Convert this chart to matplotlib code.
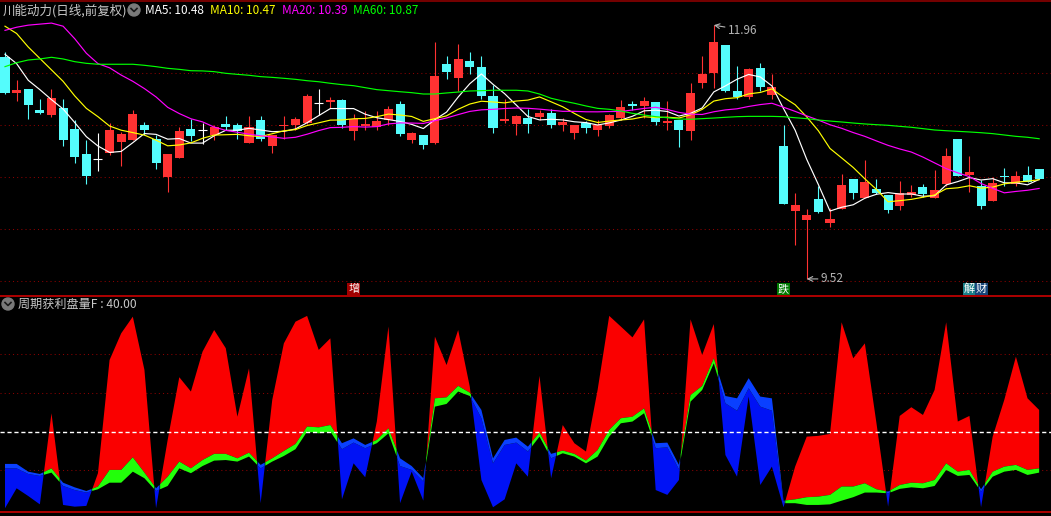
import numpy as np
import pandas as pd
import matplotlib
matplotlib.use("Agg")
import matplotlib.pyplot as plt
from matplotlib.patches import Circle

plt.rcParams['font.family'] = ['Noto Sans CJK SC', 'DejaVu Sans']

# ---- data ----
stock_title = "川能动力(日线,前复权)"
indicator_name = "周期获利盘量F"
indicator_level = 40.0

opens = [11.65, 11.305, 11.35, 11.14, 11.10, 11.16, 10.96, 10.72, 10.67, 10.73,
         10.84, 10.86, 11.00, 10.87, 10.50, 10.68, 10.96, 10.95, 10.90, 11.01,
         11.00, 10.83, 11.05, 10.80, 10.99, 11.00, 11.02, 11.21, 11.225, 11.24,
         10.94, 10.99, 10.98, 11.05, 11.20, 10.86, 10.90, 10.83, 11.59, 11.455,
         11.615, 11.56, 11.28, 11.04, 11.01, 11.07, 11.08, 11.115, 11.00, 10.92,
         11.02, 10.95, 10.99, 11.07, 11.20, 11.18, 11.22, 11.02, 11.05, 10.945,
         11.40, 11.50, 11.77, 11.33, 11.27, 11.55, 11.29, 10.80, 10.17, 10.09,
         10.29, 10.06, 10.19, 10.48, 10.30, 10.385, 10.33, 10.22, 10.33, 10.40,
         10.30, 10.43, 10.865, 10.52, 10.41, 10.27, 10.51, 10.43, 10.52, 10.58]
highs = [11.70, 11.43, 11.35, 11.25, 11.35, 11.25, 11.05, 10.86, 10.92, 11.02,
         10.93, 11.14, 11.03, 10.90, 10.72, 10.98, 11.06, 11.02, 11.00, 11.09,
         11.02, 11.09, 11.09, 10.90, 11.09, 11.08, 11.30, 11.35, 11.27, 11.25,
         11.11, 11.135, 11.135, 11.18, 11.23, 10.93, 10.90, 11.80, 11.66, 11.78,
         11.70, 11.66, 11.385, 11.25, 11.10, 11.15, 11.14, 11.15, 11.07, 11.00,
         11.04, 11.05, 11.11, 11.24, 11.23, 11.27, 11.22, 11.23, 11.05, 11.40,
         11.66, 11.96, 11.77, 11.57, 11.55, 11.60, 11.49, 11.00, 10.35, 10.19,
         10.41, 10.20, 10.53, 10.48, 10.66, 10.48, 10.33, 10.46, 10.42, 10.43,
         10.57, 10.78, 10.865, 10.70, 10.47, 10.50, 10.59, 10.56, 10.61, 10.58]
lows = [11.30, 11.23, 11.06, 11.11, 11.08, 10.80, 10.63, 10.43, 10.56, 10.71,
        10.61, 10.86, 10.90, 10.58, 10.36, 10.68, 10.85, 10.82, 10.86, 10.95,
        10.87, 10.83, 10.85, 10.73, 10.87, 10.95, 11.01, 11.10, 11.16, 10.97,
        10.86, 10.95, 10.95, 11.00, 10.89, 10.83, 10.77, 10.82, 11.44, 11.33,
        11.49, 11.25, 10.92, 11.02, 10.90, 10.92, 11.05, 10.97, 10.94, 10.865,
        10.92, 10.89, 10.97, 11.05, 11.14, 11.07, 11.00, 10.95, 10.79, 10.855,
        11.36, 11.36, 11.32, 11.25, 11.25, 11.33, 11.25, 10.24, 9.85, 9.52,
        10.15, 10.02, 10.19, 10.29, 10.30, 10.34, 10.15, 10.18, 10.31, 10.31,
        10.30, 10.41, 10.51, 10.36, 10.19, 10.27, 10.41, 10.41, 10.455, 10.48]
closes = [11.31, 11.34, 11.19, 11.12, 11.26, 10.86, 10.69, 10.51, 10.67, 10.95,
          10.91, 11.11, 10.95, 10.63, 10.72, 10.94, 10.89, 10.95, 10.98, 10.985,
          10.945, 10.98, 10.87, 10.90, 11.00, 11.06, 11.28, 11.21, 11.24, 11.00,
          11.06, 11.01, 11.04, 11.15, 10.91, 10.92, 10.81, 11.47, 11.51, 11.635,
          11.56, 11.28, 10.97, 11.06, 11.09, 11.01, 11.115, 11.00, 11.03, 11.00,
          10.97, 11.00, 11.10, 11.17, 11.18, 11.23, 11.03, 11.04, 10.95, 11.31,
          11.49, 11.80, 11.33, 11.27, 11.54, 11.37, 11.37, 10.24, 10.23, 10.135,
          10.16, 10.10, 10.42, 10.35, 10.45, 10.35, 10.18, 10.35, 10.355, 10.34,
          10.375, 10.70, 10.51, 10.55, 10.22, 10.44, 10.50, 10.51, 10.455, 10.48]

# moving averages before enough bars are on screen
ma5_head = [11.68, 11.59, 11.43, 11.34]
ma10_head = [11.95, 11.88, 11.75, 11.64, 11.53, 11.42, 11.28, 11.16, 11.08]
ma20_head = [11.91, 11.94, 11.96, 11.97, 11.98, 11.95, 11.83, 11.69, 11.59, 11.55,
             11.48, 11.42, 11.35, 11.27, 11.17, 11.11, 11.06, 11.03, 10.98]
ma60 = [11.561, 11.599, 11.625, 11.635, 11.651, 11.635, 11.609, 11.593, 11.584, 11.584,
        11.584, 11.584, 11.574, 11.561, 11.545, 11.535, 11.522, 11.52, 11.513, 11.497,
        11.487, 11.478, 11.465, 11.458, 11.449, 11.439, 11.426, 11.416, 11.401, 11.388,
        11.378, 11.359, 11.34, 11.33, 11.32, 11.311, 11.298, 11.298, 11.308, 11.317,
        11.327, 11.33, 11.334, 11.334, 11.334, 11.327, 11.298, 11.257, 11.231, 11.209,
        11.183, 11.16, 11.151, 11.135, 11.112, 11.096, 11.08, 11.07, 11.058, 11.055,
        11.061, 11.067, 11.074, 11.08, 11.083, 11.083, 11.083, 11.08, 11.07, 11.061,
        11.048, 11.038, 11.029, 11.019, 11.01, 11.003, 10.997, 10.987, 10.978, 10.965,
        10.952, 10.945, 10.939, 10.933, 10.926, 10.917, 10.904, 10.891, 10.882, 10.868]

# profit indicator: extreme line and the thin band under/over it
ind_extreme = [0.4, 10.7, 6.7, 2.4, 49.5, 2.1, 1.2, 1.6, 18.5, 77.0,
               90.8, 99.4, 71.9, 0.4, 35.7, 68.1, 60.7, 81.3, 92.5, 83.1,
               47.7, 72.7, 3.0, 56.4, 85.6, 96.8, 99.8, 82.2, 88.2, 5.0,
               23.6, 16.4, 45.2, 94.3, 3.0, 19.3, 4.3, 89.1, 74.4, 92.5,
               63.2, 15.0, 0.9, 5.0, 23.6, 16.7, 68.8, 15.9, 43.4, 34.0,
               29.7, 61.5, 99.8, 94.3, 88.7, 98.0, 9.8, 7.3, 15.0, 98.0,
               79.6, 95.6, 27.9, 16.7, 58.1, 12.4, 21.9, 0.9, 21.9, 37.4,
               37.8, 38.8, 96.5, 77.9, 85.6, 44.3, 1.2, 48.1, 52.6, 48.6,
               61.5, 96.5, 45.2, 48.1, 0.9, 37.4, 56.4, 78.7, 57.2, 51.2]
band_top = [23.3, 23.3, 19.3, 18.1, 21.0, 13.6, 11.2, 9.3, 11.6, 20.2,
            20.2, 26.7, 18.8, 10.7, 16.7, 24.5, 21.0, 25.3, 28.5, 28.5,
            26.2, 29.1, 22.8, 26.2, 30.0, 33.6, 42.6, 42.2, 43.4, 34.0,
            36.5, 33.1, 35.7, 41.7, 26.2, 22.2, 15.9, 57.2, 57.7, 63.6,
            60.1, 51.2, 26.2, 35.7, 36.9, 32.2, 39.5, 28.5, 30.2, 28.5,
            25.0, 30.5, 40.9, 46.9, 47.7, 52.0, 34.0, 34.3, 22.8, 58.9,
            63.6, 77.9, 58.4, 57.2, 67.6, 58.1, 57.2, 4.3, 5.0, 6.1,
            6.4, 7.3, 11.6, 11.6, 13.3, 10.2, 9.0, 12.4, 13.6, 13.3,
            15.0, 23.6, 19.3, 20.2, 10.2, 19.3, 21.9, 22.8, 20.2, 21.0]
band_bottom = [21.0, 21.0, 18.1, 17.1, 18.8, 11.9, 9.8, 8.5, 10.2, 13.6,
               13.6, 19.3, 15.9, 9.3, 11.9, 21.0, 18.5, 22.2, 25.0, 25.3,
               24.5, 27.1, 21.0, 24.5, 27.4, 30.9, 40.0, 39.1, 40.0, 30.9,
               34.3, 31.4, 34.0, 39.1, 22.2, 20.2, 14.2, 52.9, 54.3, 60.7,
               58.4, 46.9, 23.6, 33.1, 34.3, 29.7, 37.4, 26.2, 28.8, 27.1,
               23.6, 27.1, 37.4, 44.3, 45.2, 49.5, 31.4, 31.9, 20.5, 55.5,
               61.5, 75.3, 54.6, 50.8, 62.4, 52.9, 50.8, 3.0, 3.0, 2.1,
               2.1, 2.4, 4.3, 6.1, 8.5, 8.5, 8.1, 10.4, 11.2, 10.7,
               11.9, 20.2, 17.1, 17.6, 9.0, 16.7, 19.3, 20.2, 17.6, 18.8]

# signal labels under the price panel: (bar, text, colour)
signal_labels = [(30, "增", "#a00000"), (67, "跌", "#007a00"),
                 (83, "解", "#1b8088"), (84, "财", "#17467a")]

RED = "#ff3232"
CYAN = "#54fcfc"
GRID = "#8b0000"
W, H = 1051, 516

fig = plt.figure(figsize=(W / 100, H / 100), dpi=100, facecolor="black")


def panel(top, bottom):
    ax = fig.add_axes([0, 1 - bottom / H, 1, (bottom - top) / H])
    ax.set_facecolor("black")
    ax.set_axis_off()
    return ax


ax_k = panel(20, 296)
ax_i = panel(297, 512)

x = np.arange(len(closes))
o, h, l, c = (np.array(v) for v in (opens, highs, lows, closes))
col = np.where(c > o, RED, np.where(c < o, CYAN, "white"))

# ---- candles ----
for p in (9.5, 10.0, 10.5, 11.0, 11.5):
    ax_k.axhline(p, color=GRID, lw=0.75, ls=(0, (1, 3)), zorder=1)
ax_k.vlines(x, l, h, colors=col, lw=0.8, zorder=2)
body = c != o
ax_k.bar(x[body], np.maximum(np.abs(c - o)[body], 0.01),
         bottom=np.minimum(o, c)[body], width=0.78,
         color=col[body], linewidth=0, zorder=3)
ax_k.hlines(c[~body], x[~body] - 0.39, x[~body] + 0.39,
            colors=col[~body], lw=0.8, zorder=3)

close_s = pd.Series(closes)
ma5 = close_s.rolling(5).mean().to_numpy()
ma5[:len(ma5_head)] = ma5_head
ma10 = close_s.rolling(10).mean().to_numpy()
ma10[:len(ma10_head)] = ma10_head
ma20 = close_s.rolling(20).mean().to_numpy()
ma20[:len(ma20_head)] = ma20_head

ma_lines = [("MA5", ma5, "white"), ("MA10", ma10, "#ffff00"),
            ("MA20", ma20, "#ff00ff"), ("MA60", np.array(ma60), "#00ff00")]
for name, vals, color in ma_lines:
    ax_k.plot(x, vals, color=color, lw=0.85, zorder=4)

ax_k.set_xlim(-0.43, 90.02)
ax_k.set_ylim(9.3558, 12.0096)

# high / low markers
hi = int(np.argmax(h))
lo = int(np.argmin(l))
for idx, val, dy in ((hi, h[hi], -3.5), (lo, l[lo], 0)):
    ax_k.annotate(f"{val:.2f}", xy=(idx, val), xytext=(10, dy),
                  textcoords="offset points", color="#b4b4b4", fontsize=8.5,
                  va="center", ha="left",
                  arrowprops=dict(arrowstyle="->", color="#b4b4b4", lw=0.8,
                                  shrinkA=0, shrinkB=0))

for idx, txt, bg in signal_labels:
    ax_k.text(idx, 0.026, txt, transform=ax_k.get_xaxis_transform(),
              color="white", fontsize=8, ha="center", va="center", zorder=6,
              bbox=dict(boxstyle="square,pad=0.08", fc=bg, ec="none"))

# ---- indicator panel ----
for v in (20, 60, 80):
    ax_i.axhline(v, color=GRID, lw=0.75, ls=(0, (1, 3)), zorder=1)

xf = np.linspace(0, len(x) - 1, (len(x) - 1) * 20 + 1)
ef = np.interp(xf, x, ind_extreme)
tf = np.interp(xf, x, band_top)
bf = np.interp(xf, x, band_bottom)
mid = (tf + bf) / 2
ax_i.fill_between(xf, tf, ef, where=ef > tf, interpolate=True,
                  color="#fa0000", lw=0, zorder=2)
ax_i.fill_between(xf, ef, bf, where=ef < bf, interpolate=True,
                  color="#0012f5", lw=0, zorder=2)
ax_i.fill_between(xf, bf, tf, where=ef >= mid, color="#22ff0a", lw=0, zorder=3)
ax_i.fill_between(xf, bf, tf, where=ef < mid, color="#0a40ff", lw=0, zorder=3)
ax_i.axhline(indicator_level, color="white", lw=1, ls=(0, (3, 2)), zorder=5)
ax_i.set_xlim(-0.43, 90.02)
ax_i.set_ylim(-1.55, 109.56)

# ---- overlay: headers, frame lines ----
ov = fig.add_axes([0, 0, 1, 1], zorder=10)
ov.set_xlim(0, W)
ov.set_ylim(H, 0)
ov.set_axis_off()
ov.patch.set_alpha(0)
for y, color in ((1, "#8b0000"), (296, "#cc0000"), (512, "#cc0000")):
    ov.plot([0, W], [y, y], color=color, lw=1.2)


def menu_icon(cx, cy):
    ov.add_patch(Circle((cx, cy), 6, color="#7a7a7a"))
    ov.plot([cx - 3, cx, cx + 3], [cy - 1.5, cy + 1.5, cy - 1.5],
            color="#1a1a1a", lw=1.2)


ov.text(3, 10.5, stock_title, color="#c8c8c8", fontsize=9, va="center")
menu_icon(134, 10)
for (name, vals, color), xpos in zip(ma_lines, (145, 210, 282, 353)):
    ov.text(xpos, 10.5, f"{name}: {vals[-1]:.2f}", color=color,
            fontsize=8.5, va="center")

menu_icon(8, 304)
ov.text(18, 304.5, f"{indicator_name} : {indicator_level:.2f}",
        color="#c8c8c8", fontsize=8.7, va="center")

fig.savefig("out.png", dpi=100, facecolor="black")
